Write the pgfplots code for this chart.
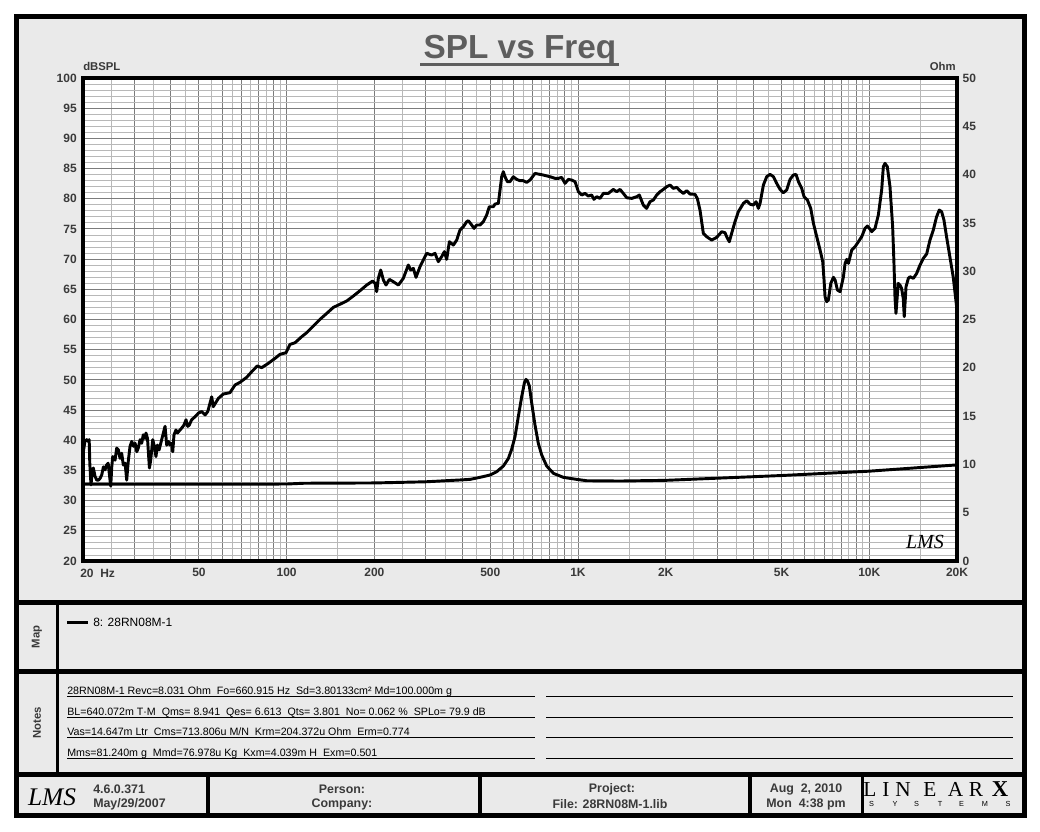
\documentclass[border=0pt]{standalone}
\usepackage{pgfplots}
\pgfplotsset{compat=1.18}
\usepackage{fontspec}
\setmainfont{Liberation Sans}
\newfontfamily\seriffont{Liberation Serif}
\definecolor{panel}{HTML}{EAEAEA}
\definecolor{majgrid}{HTML}{7C7C7C}
\definecolor{mingrid}{HTML}{B8B8B8}
\definecolor{titlegray}{HTML}{5E5E5E}
\definecolor{txt}{HTML}{3A3A3A}

\pgfplotstableread{
f db
20.05 38.1
20.3 39.8
20.6 40.1
20.86 39.8
21.0 40.1
21.1 36.2
21.3 32.6
21.55 35.1
21.7 35.4
22.0 34.0
22.3 33.4
22.6 33.4
22.9 33.7
23.2 34.3
23.5 35.6
23.8 35.1
24.1 35.9
24.4 36.2
24.76 33.4
24.9 32.4
25.1 35.6
25.3 37.3
25.76 36.7
26.1 38.7
26.45 38.4
26.8 37.0
27.15 37.85
27.5 35.9
27.9 36.2
28.25 33.4
28.6 36.5
29.0 39.0
29.4 39.8
29.8 39.0
30.2 39.5
30.6 38.1
30.95 38.7
31.4 40.1
31.8 39.5
32.2 40.9
32.65 40.3
32.9 41.2
33.3 40.3
33.8 35.4
34.15 36.7
34.7 40.1
35.15 39.0
35.6 37.3
36.0 39.2
36.5 38.4
37.25 40.1
37.75 41.2
38.25 42.3
38.76 39.2
39.3 39.8
39.8 39.2
40.3 39.5
40.65 38.1
41.05 40.9
41.7 41.7
42.2 41.2
43.05 41.7
43.6 42.0
44.4 42.5
45.15 43.4
45.75 42.3
46.3 42.5
47.2 43.4
48.5 43.9
49.8 44.5
51.1 44.75
52.5 44.2
53.6 44.75
55.3 47.2
56.0 45.56
58.3 46.94
60.6 47.66
63.9 47.88
66.5 49.15
69.2 49.6
72.9 50.42
75.9 51.36
79.3 52.3
82.1 52.02
86.5 52.74
91.2 53.56
94.9 54.23
99.5 54.5
102.7 55.88
106.9 56.16
112.6 57.15
117.2 57.82
123.5 58.92
130.2 60.03
137.3 61.02
144.7 62.01
150.5 62.4
160.7 63.06
169.4 63.89
178.6 64.77
188.3 65.71
197.4 66.37
201.1 65.99
203.7 64.61
206.4 66.82
210.3 68.2
214.8 66.54
219.3 65.71
225.2 66.65
232.4 66.26
241.8 65.71
251.5 66.82
261.6 69.03
266.5 68.2
272.2 68.47
278.0 66.98
286.9 68.75
302.4 70.96
314.6 70.68
323.0 70.96
331.6 69.58
340.5 70.4
347.8 71.24
354.3 69.96
361.9 72.89
373.5 72.33
383.5 73.16
393.6 74.82
404.2 75.37
415.0 76.2
420.5 76.36
431.8 75.65
439.8 75.09
449.2 75.65
460.8 75.65
473.2 76.2
485.8 77.3
496.2 78.68
512.2 78.68
519.0 79.12
532.9 79.24
540.0 81.44
547.1 83.65
554.4 84.48
561.8 83.65
572.2 82.83
584.4 82.83
600.0 83.65
616.1 83.21
632.5 82.99
649.4 82.99
666.8 82.71
684.5 83.1
712.1 84.2
731.1 84.09
760.5 83.93
801.7 83.65
834.0 83.38
856.3 83.38
879.2 83.54
902.8 82.55
926.9 83.21
951.6 83.1
977.0 82.83
1003 81.17
1030 80.62
1057 80.89
1085 80.45
1114 80.62
1135 79.9
1159 80.34
1190 80.06
1222 80.89
1271 80.89
1322 81.55
1358 81.17
1394 81.55
1431 80.89
1470 80.17
1529 80.06
1591 80.34
1624 80.62
1676 78.96
1721 78.41
1767 79.51
1815 79.79
1863 80.62
1913 81.17
1964 81.55
2016 81.99
2069 82.27
2125 81.72
2182 81.89
2240 81.33
2300 80.89
2361 81.33
2424 80.78
2521 80.73
2568 80.06
2623 78.13
2693 74.27
2765 73.71
2876 73.16
2993 73.6
3114 74.54
3197 74.38
3239 73.71
3307 72.88
3369 74.27
3459 76.2
3552 77.85
3697 79.24
3795 79.68
3897 79.1
4000 78.96
4086 79.51
4162 78.41
4217 79.24
4330 82.28
4445 83.66
4563 84.04
4685 83.66
4809 82.55
4938 81.56
5069 81.0
5204 81.45
5343 83.21
5485 83.93
5602 84.04
5713 82.83
5861 81.72
5971 80.34
6131 79.79
6294 78.41
6429 75.93
6600 73.72
6776 71.51
6920 69.58
6993 66.54
7048 63.78
7142 62.95
7236 63.23
7376 65.99
7532 66.98
7633 66.54
7774 64.88
7939 64.61
8150 67.09
8258 69.3
8367 69.96
8478 69.3
8704 71.51
8935 72.06
9173 72.89
9417 73.72
9667 75.1
9848 75.48
10005 75.1
10191 74.55
10462 75.1
10740 77.31
11026 81.45
11172 85.31
11318 85.86
11529 85.31
11775 82.0
12025 75.37
12152 69.3
12248 63.78
12345 61.02
12570 65.99
12737 65.71
12905 65.16
13076 63.5
13181 60.46
13366 65.43
13614 66.81
13795 67.09
14163 66.81
14540 67.64
14927 69.02
15325 70.13
15733 70.85
16152 73.17
16582 74.82
17023 77.03
17386 78.13
17710 77.86
18040 76.48
18414 73.72
18904 70.4
19407 67.09
19924 62.3
20000 61.85
}\spltable

\pgfplotstableread{
f ohm
20 7.95
50 7.95
100 7.97
115 8.05
200 8.08
300 8.2
400 8.4
425.8 8.45
460.8 8.66
498.7 8.9
525.8 9.24
554.4 9.83
577 10.62
592 11.56
608 12.87
624 14.94
641 17.01
655 18.46
663 18.8
672 18.6
681 18.1
694 16.32
712 14.08
731 12.18
751 10.97
781 9.83
824 9.07
891 8.66
990 8.45
1071 8.31
1394 8.28
2000 8.35
5000 8.85
10000 9.3
20000 9.95
}\zedtable

\begin{document}
\begin{tikzpicture}
\begin{scope}[x=0.75pt,y=-0.75pt]
\fill[white] (0,0) rectangle (1040,832);
\fill[panel] (16.5,16.5) rectangle (1024.5,815.5);
\end{scope}

\begin{axis}[
  at={(62.25pt,-420.75pt)}, anchor=south west,
  scale only axis, width=655.5pt, height=362.25pt,
  xmode=log, xmin=20, xmax=20000,
  major tick length=0pt, minor tick length=0pt,
  ticklabel style={font=\fontsize{9}{10}\selectfont\bfseries, text=txt},
  /pgf/number format/assume math mode=true,
  ymin=20, ymax=100,
  axis background/.style={fill=white},
  xtick={20,30,40,50,60,70,80,90,100,200,300,400,500,600,700,800,900,1000,2000,3000,4000,5000,6000,7000,8000,9000,10000,20000},
  xticklabels={,,,50,,,,,100,200,,,500,,,,,1K,2K,,,5K,,,,,10K,20K},
  minor xtick={25,35,45,55,65,75,85,95,150,250,350,450,550,650,750,850,950,1500,2500,3500,4500,5500,6500,7500,8500,9500,15000},
  ytick={20,25,...,100},
  minor y tick num=4,
  grid=both,
  major grid style={majgrid, line width=0.7pt},
  minor grid style={mingrid, line width=0.7pt},
  axis line style={line width=2.6pt},
  yticklabel style={inner sep=0pt, xshift=-4.5pt},
  xticklabel style={inner sep=0pt, yshift=-5pt},
]
\addplot[black, line width=2.2pt, line join=round] table[x=f, y=db] {\spltable};
\end{axis}

\begin{axis}[
  at={(62.25pt,-420.75pt)}, anchor=south west,
  scale only axis, width=655.5pt, height=362.25pt,
  xmode=log, xmin=20, xmax=20000,
  major tick length=0pt, minor tick length=0pt,
  ticklabel style={font=\fontsize{9}{10}\selectfont\bfseries, text=txt},
  /pgf/number format/assume math mode=true,
  ymin=0, ymax=50,
  axis x line=none, axis y line*=right,
  y axis line style={line width=2.6pt},
  ytick={0,5,...,50},
  yticklabel style={inner sep=0pt, xshift=4pt},
]
\addplot[black, line width=2.2pt, line join=round] table[x=f, y=ohm] {\zedtable};
\end{axis}

\begin{scope}[x=0.75pt,y=-0.75pt]
% outer frame and separators
\draw[line width=3.75pt] (16.5,16.5) rectangle (1024.5,815.5);
\draw[line width=3.6pt] (16.5,602.5) -- (1024.5,602.5);
\draw[line width=3.6pt] (16.5,671.5) -- (1024.5,671.5);
\draw[line width=3.6pt] (16.5,774.5) -- (1024.5,774.5);
\draw[line width=2.6pt] (57.5,602.5) -- (57.5,774.5);
\foreach \xx in {208,480,750,862.5} \draw[line width=2.4pt] (\xx,774.5) -- (\xx,815.5);

% title and axis titles
\node[anchor=base, text=titlegray, font=\fontsize{25}{30}\selectfont\bfseries, inner sep=0pt] at (520,58) {SPL vs Freq};
\draw[titlegray, line width=2.8pt] (420,64.5) -- (619,64.5);
\node[anchor=west, inner sep=0pt, text=txt, font=\fontsize{8.5}{10}\selectfont\bfseries] at (83,66.5) {dBSPL};
\node[anchor=east, inner sep=0pt, text=txt, font=\fontsize{8.5}{10}\selectfont\bfseries] at (956,66.5) {Ohm};
\node[anchor=base west, inner sep=0pt, text=txt, font=\fontsize{9}{10}\selectfont\bfseries] at (80,577) {20\ \ Hz};
\node[inner sep=0pt, font=\seriffont\fontsize{15}{15}\selectfont\itshape] at (925,542) {LMS};

% map
\node[rotate=90, inner sep=0pt, text=txt, font=\fontsize{8.5}{10}\selectfont\bfseries] at (37,637) {Map};
\draw[line width=2.2pt] (67,622.5) -- (88,622.5);
\node[anchor=west, inner sep=0pt, font=\fontsize{9}{10}\selectfont] at (93,622.5) {8: 28RN08M-1};

% notes
\node[rotate=90, inner sep=0pt, text=txt, font=\fontsize{8.5}{10}\selectfont\bfseries] at (37,723) {Notes};
\foreach \yy in {696.5,717.3,737.8,758.5} {
  \draw[line width=0.9pt] (67,\yy) -- (535,\yy);
  \draw[line width=0.9pt] (546,\yy) -- (1013,\yy);
}
\begin{scope}[every node/.style={anchor=base west, inner sep=0pt, font=\fontsize{8}{9}\selectfont}]
\node at (67,694.5) {28RN08M-1 Revc=8.031 Ohm\ \ Fo=660.915 Hz\ \ Sd=3.80133cm² Md=100.000m g};
\node at (67,715.3) {BL=640.072m T·M\ \ Qms= 8.941\ \ Qes= 6.613\ \ Qts= 3.801\ \ No= 0.062 \%\ \ SPLo= 79.9 dB};
\node at (67,735.8) {Vas=14.647m Ltr\ \ Cms=713.806u M/N\ \ Krm=204.372u Ohm\ \ Erm=0.774};
\node at (67,756.5) {Mms=81.240m g\ \ Mmd=76.978u Kg\ \ Kxm=4.039m H\ \ Exm=0.501};
\end{scope}

% footer
\node[inner sep=0pt, font=\seriffont\fontsize{19}{19}\selectfont\itshape] at (52,797) {LMS};
\begin{scope}[every node/.style={inner sep=0pt, text=txt, font=\fontsize{9.3}{11}\selectfont\bfseries}]
\node[anchor=west] at (93,789) {4.6.0.371};
\node[anchor=west] at (93,804) {May/29/2007};
\node at (342,789) {Person:};
\node at (342,804) {Company:};
\node at (612,789) {Project:};
\node at (610,804) {File: 28RN08M-1.lib};
\node at (806,789) {Aug\ \ 2, 2010};
\node at (806,804) {Mon\ \ 4:38 pm};
\end{scope}
\begin{scope}[every node/.style={inner sep=0pt, font=\seriffont\fontsize{16}{16}\selectfont}]
\node at (870,789.5) {L};
\node at (886,789.5) {I};
\node at (903,789.5) {N};
\node at (930,789.5) {E};
\node at (955.5,789.5) {A};
\node at (976,789.5) {R};
\node[font=\seriffont\fontsize{17}{17}\selectfont\bfseries] at (1000,789.5) {X};
\end{scope}
\begin{scope}[every node/.style={inner sep=0pt, font=\fontsize{5.5}{6}\selectfont}]
\node at (871.5,803.5) {S};
\node at (895,803.5) {Y};
\node at (916.5,803.5) {S};
\node at (940,803.5) {T};
\node at (961.5,803.5) {E};
\node at (985,803.5) {M};
\node at (1008,803.5) {S};
\end{scope}
\end{scope}
\end{tikzpicture}
\end{document}
